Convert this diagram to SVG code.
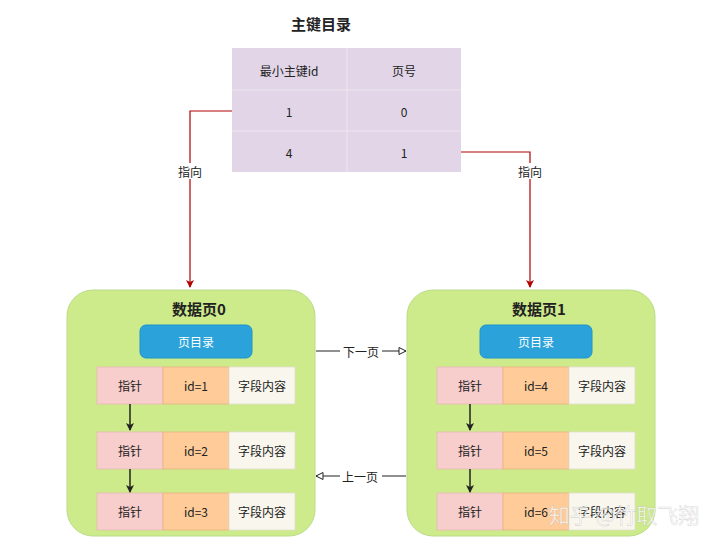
<svg xmlns="http://www.w3.org/2000/svg" width="720" height="544" viewBox="0 0 720 544">
<defs>
<marker id="red" markerWidth="10" markerHeight="10" refX="8" refY="5" orient="auto" markerUnits="userSpaceOnUse"><path d="M1,1 L9,5 L1,9 L3,5 Z" fill="#b20000"/></marker>
<marker id="blk" markerWidth="10" markerHeight="10" refX="8" refY="5" orient="auto" markerUnits="userSpaceOnUse"><path d="M1,1 L9,5 L1,9 L3,5 Z" fill="#222"/></marker>
<marker id="open" markerWidth="10" markerHeight="10" refX="8" refY="5" orient="auto" markerUnits="userSpaceOnUse"><path d="M1,1.5 L8,5 L1,8.5 Z" fill="#fff" stroke="#222" stroke-width="1"/></marker>
</defs>
<style>
text{font-family:"Noto Sans CJK SC","Liberation Sans",sans-serif;text-anchor:middle;dominant-baseline:central;fill:#222}
.t{font-size:12px}
.b{font-size:15px;font-weight:bold}
.page{fill:#cdeb8b;stroke:#b9dc8a;stroke-width:1}
.dir{fill:#2ba3da;stroke:#1e94c8;stroke-width:1}
.p{fill:#f8cecc;stroke:#e6b8b4;stroke-width:0.8}
.o{fill:#ffcc99;stroke:#e8b080;stroke-width:0.8}
.w{fill:#f9f7ed;stroke:#e0ddd0;stroke-width:0.8}
.cell{fill:#e1d5e7}
.sep{stroke:#ede6f0;stroke-width:1}
</style>
<rect width="720" height="544" fill="#fff"/>

<g id="index">
<text x="321" y="23" class="b">主键目录</text>
<rect x="232" y="48" width="229" height="124" class="cell"/>
<line x1="232" y1="90" x2="461" y2="90" class="sep"/>
<line x1="232" y1="131" x2="461" y2="131" class="sep"/>
<line x1="347" y1="48" x2="347" y2="172" class="sep"/>
<text x="289" y="70" class="t">最小主键id</text>
<text x="404" y="70" class="t">页号</text>
<text x="289" y="111" class="t">1</text>
<text x="404" y="111" class="t">0</text>
<text x="289" y="152" class="t">4</text>
<text x="404" y="152" class="t">1</text>
</g>

<g id="page0">
<rect x="67" y="290" width="248" height="246" rx="26" class="page"/>
<text x="199" y="308" class="b">数据页0</text>
<rect x="140" y="325" width="112" height="33" rx="6" class="dir"/>
<text x="196" y="341" class="t" style="fill:#fff">页目录</text>
<rect x="97" y="367" width="66" height="37" class="p"/><rect x="163" y="367" width="66" height="37" class="o"/><rect x="229" y="367" width="66" height="37" class="w"/>
<text x="130" y="385" class="t">指针</text><text x="196" y="385" class="t">id=1</text><text x="262" y="385" class="t">字段内容</text>
<rect x="97" y="432" width="66" height="37" class="p"/><rect x="163" y="432" width="66" height="37" class="o"/><rect x="229" y="432" width="66" height="37" class="w"/>
<text x="130" y="450" class="t">指针</text><text x="196" y="450" class="t">id=2</text><text x="262" y="450" class="t">字段内容</text>
<rect x="97" y="493" width="66" height="37" class="p"/><rect x="163" y="493" width="66" height="37" class="o"/><rect x="229" y="493" width="66" height="37" class="w"/>
<text x="130" y="511" class="t">指针</text><text x="196" y="511" class="t">id=3</text><text x="262" y="511" class="t">字段内容</text>
</g>

<g id="page1">
<rect x="407" y="290" width="248" height="246" rx="26" class="page"/>
<text x="539" y="308" class="b">数据页1</text>
<rect x="480" y="325" width="112" height="33" rx="6" class="dir"/>
<text x="536" y="341" class="t" style="fill:#fff">页目录</text>
<rect x="437" y="367" width="66" height="37" class="p"/><rect x="503" y="367" width="66" height="37" class="o"/><rect x="569" y="367" width="66" height="37" class="w"/>
<text x="470" y="385" class="t">指针</text><text x="536" y="385" class="t">id=4</text><text x="602" y="385" class="t">字段内容</text>
<rect x="437" y="432" width="66" height="37" class="p"/><rect x="503" y="432" width="66" height="37" class="o"/><rect x="569" y="432" width="66" height="37" class="w"/>
<text x="470" y="450" class="t">指针</text><text x="536" y="450" class="t">id=5</text><text x="602" y="450" class="t">字段内容</text>
<rect x="437" y="493" width="66" height="37" class="p"/><rect x="503" y="493" width="66" height="37" class="o"/><rect x="569" y="493" width="66" height="37" class="w"/>
<text x="470" y="511" class="t">指针</text><text x="536" y="511" class="t">id=6</text><text x="602" y="511" class="t">字段内容</text>
</g>

<g id="connectors" fill="none">
<path d="M232,111 H190 V287" stroke="#b20000" stroke-width="1.2" marker-end="url(#red)"/>
<rect x="174" y="163" width="32" height="16" fill="#fff"/>
<text x="190" y="171" class="t">指向</text>
<path d="M461,152 H530 V287" stroke="#b20000" stroke-width="1.2" marker-end="url(#red)"/>
<rect x="514" y="163" width="32" height="16" fill="#fff"/>
<text x="530" y="171" class="t">指向</text>
<path d="M130,404 V430" stroke="#222" stroke-width="1.5" marker-end="url(#blk)"/>
<path d="M130,469 V492" stroke="#222" stroke-width="1.5" marker-end="url(#blk)"/>
<path d="M470,404 V430" stroke="#222" stroke-width="1.5" marker-end="url(#blk)"/>
<path d="M470,469 V492" stroke="#222" stroke-width="1.5" marker-end="url(#blk)"/>
<path d="M316,351 H406" stroke="#222" stroke-width="1.2" marker-end="url(#open)"/>
<rect x="340" y="343" width="42" height="16" fill="#fff"/>
<text x="361" y="351" class="t">下一页</text>
<path d="M406,476 H316" stroke="#222" stroke-width="1.2" marker-end="url(#open)"/>
<rect x="340" y="468" width="42" height="16" fill="#fff"/>
<text x="360" y="476" class="t">上一页</text>
</g>

<text x="624" y="514" style="font-size:21px;fill:#ffffff;fill-opacity:0.75;stroke:#999;stroke-opacity:0.35;stroke-width:0.6">知乎 @竹取飞翔</text>
</svg>
